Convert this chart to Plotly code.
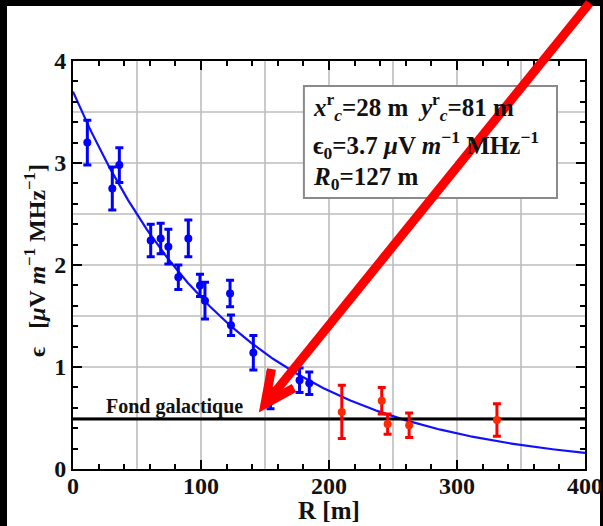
import numpy as np
import plotly.graph_objects as go

# Measured field amplitude vs distance (blue: main set, red: far set)
r_blue = [11.2, 30.7, 36.2, 60.7, 68.5, 74.5, 82.3, 90.1, 99.2, 103.1,
          122.7, 123.4, 140.9, 154.3, 177.0, 184.6]
eps_blue = [3.20, 2.75, 2.98, 2.24, 2.26, 2.18, 1.88, 2.26, 1.80, 1.65,
            1.72, 1.41, 1.14, 0.77, 0.87, 0.84]
err_blue = [0.22, 0.21, 0.17, 0.16, 0.15, 0.17, 0.12, 0.18, 0.11, 0.18,
            0.13, 0.10, 0.17, 0.18, 0.12, 0.11]

r_red = [210.0, 241.2, 245.8, 262.6, 331.2]
eps_red = [0.56, 0.67, 0.44, 0.43, 0.48]
err_red = [0.26, 0.13, 0.10, 0.12, 0.16]

# Exponential fit parameters and galactic background level
E0 = 3.7      # µV/m/MHz
R0 = 127.0    # m
GALACTIC_BG = 0.49

X_RANGE = [0, 400]
Y_RANGE = [0, 4]

SERIF = "Liberation Serif"
INK = "#111111"

r_fit = np.linspace(X_RANGE[0], X_RANGE[1], 300)
eps_fit = E0 * np.exp(-r_fit / R0)

fig = go.Figure()

fig.add_trace(go.Scatter(
    x=r_fit, y=eps_fit, mode="lines",
    line=dict(color="#1010ff", width=2.2), hoverinfo="skip",
))
fig.add_trace(go.Scatter(
    x=list(X_RANGE), y=[GALACTIC_BG, GALACTIC_BG], mode="lines",
    line=dict(color="black", width=3.2), hoverinfo="skip",
))
fig.add_trace(go.Scatter(
    x=r_blue, y=eps_blue, mode="markers",
    marker=dict(color="#0000ff", size=8),
    error_y=dict(type="data", array=err_blue, color="#0000ff",
                 thickness=3, width=4),
))
fig.add_trace(go.Scatter(
    x=r_red, y=eps_red, mode="markers",
    marker=dict(color="#ff2a00", size=8),
    error_y=dict(type="data", array=err_red, color="#ff0000",
                 thickness=3, width=4),
))

shapes = []
# dark border strips along the top, left and right edges of the page
shapes.append(dict(type="rect", xref="paper", yref="paper",
                   x0=-0.1426, x1=1.0352, y0=1.1348, y1=1.1495,
                   fillcolor="black", line=dict(width=0), layer="below"))
shapes.append(dict(type="rect", xref="paper", yref="paper",
                   x0=-0.1426, x1=-0.1289, y0=-0.1397, y1=1.1495,
                   fillcolor="black", line=dict(width=0), layer="below"))
shapes.append(dict(type="rect", xref="paper", yref="paper",
                   x0=1.0293, x1=1.0352, y0=-0.1397, y1=1.1495,
                   fillcolor="black", line=dict(width=0), layer="below"))
# grid every 50 m and every 0.5 units
for gx in np.arange(50, 400, 50):
    shapes.append(dict(type="line", xref="x", yref="y", x0=gx, x1=gx,
                       y0=Y_RANGE[0], y1=Y_RANGE[1],
                       line=dict(color="#bdbdbd", width=1.6), layer="below"))
for gy in np.arange(0.5, 4.0, 0.5):
    shapes.append(dict(type="line", xref="x", yref="y", x0=X_RANGE[0], x1=X_RANGE[1],
                       y0=gy, y1=gy,
                       line=dict(color="#bdbdbd", width=1.6), layer="below"))
# parameter box
shapes.append(dict(type="rect", xref="paper", yref="paper",
                   x0=0.451, x1=0.9453, y0=0.664, y1=0.9387,
                   fillcolor="white", line=dict(color="#8a8a8a", width=2),
                   layer="above"))
# red pointer arrow
shapes.append(dict(type="line", xref="paper", yref="paper",
                   x0=0.378, y0=0.163, x1=1.009, y1=1.1422,
                   line=dict(color="#ff0000", width=9), layer="above"))
shapes.append(dict(type="path", xref="paper", yref="paper",
                   path="M 0.3877 0.2451 L 0.375 0.1593 L 0.4316 0.1985",
                   line=dict(color="#ff0000", width=9), layer="above"))

box_font = dict(family=SERIF, size=25, color=INK, weight="bold")
title_font = dict(family=SERIF, size=25, color=INK, weight="bold")

annotations = [
    dict(xref="paper", yref="paper", x=0.465, y=0.887, xanchor="left", yanchor="middle",
         text="<i>x</i><sup>r</sup><sub><i>c</i></sub>=28 m  <i>y</i><sup>r</sup><sub><i>c</i></sub>=81 m",
         showarrow=False, font=box_font),
    dict(xref="paper", yref="paper", x=0.465, y=0.794, xanchor="left", yanchor="middle",
         text="ϵ<sub>0</sub>=3.7 <i>μ</i>V <i>m</i><sup>−1</sup> MHz<sup>−1</sup>",
         showarrow=False, font=box_font),
    dict(xref="paper", yref="paper", x=0.465, y=0.713, xanchor="left", yanchor="middle",
         text="<i>R</i><sub>0</sub>=127 m",
         showarrow=False, font=box_font),
    dict(xref="x", yref="y", x=24.2, y=0.61, xanchor="left", yanchor="middle",
         text="Fond galactique", showarrow=False,
         font=dict(family=SERIF, size=20, color=INK, weight="bold")),
    # axis titles
    dict(xref="paper", yref="paper", x=0.5, y=-0.1005, xanchor="center", yanchor="middle",
         text="R [m]", showarrow=False, font=title_font),
    dict(xref="paper", yref="paper", x=-0.0742, y=0.51, xanchor="center", yanchor="middle",
         textangle=-90,
         text="ϵ   [<i>μ</i>V <i>m</i><sup>−1</sup> MHz<sup>−1</sup>]",
         showarrow=False, font=dict(family=SERIF, size=24, color=INK, weight="bold")),
]

axis_common = dict(
    showline=True, linecolor="black", linewidth=2, mirror="allticks",
    ticks="inside", ticklen=9, tickwidth=1.6, tickcolor="black",
    showgrid=False, zeroline=False, automargin=False,
    ticklabeloverflow="allow",
    tickfont=dict(family=SERIF, size=24, color=INK, weight="bold"),
)

fig.update_layout(
    template="none",
    width=603, height=526, autosize=False,
    margin=dict(l=73, r=18, t=61, b=57),
    paper_bgcolor="white", plot_bgcolor="white",
    showlegend=False,
    shapes=shapes, annotations=annotations,
    xaxis=dict(range=X_RANGE, tick0=0, dtick=100, ticklabelstandoff=-6,
               minor=dict(dtick=20, ticks="inside", ticklen=5, tickwidth=1.6,
                          tickcolor="black", showgrid=False),
               **axis_common),
    yaxis=dict(range=Y_RANGE, tick0=0, dtick=1,
               minor=dict(dtick=0.2, ticks="inside", ticklen=5, tickwidth=1.6,
                          tickcolor="black", showgrid=False),
               **axis_common),
)

fig.write_html("out.html", config={"responsive": False, "displayModeBar": False})
